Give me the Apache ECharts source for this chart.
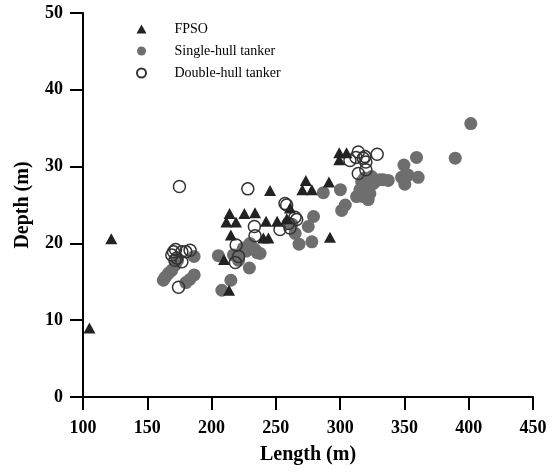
<!DOCTYPE html>
<html>
<head>
<meta charset="utf-8">
<script src="https://cdn.jsdelivr.net/npm/echarts@6/dist/echarts.min.js"></script>
<style>
html,body{margin:0;padding:0;background:#fff;}
#chart{width:555px;height:475px;}
</style>
</head>
<body>
<div id="chart"></div>
<script>
const seriesNames = ['FPSO', 'Single-hull tanker', 'Double-hull tanker'];
const xTicks = [100, 150, 200, 250, 300, 350, 400, 450];
const yTicks = [0, 10, 20, 30, 40, 50];

const fpso = [
  [105,9.0],[122,20.6],[209.7,17.9],[213.6,13.9],[211.5,22.8],[214,23.9],[219,22.8],
  [225.5,23.9],[233.8,24.0],[215,21.1],[240.3,20.7],[244.2,20.7],[242.4,22.9],[251,22.9],
  [245.5,26.9],[258.5,23.2],[261,24.6],[270.6,27.0],[273.3,28.2],[278,27.0],[291.3,28.0],
  [292.1,20.8],[299.3,31.8],[305,31.8],[299.3,30.9]
];

const singleHull = [
  [162.5,15.2],[164,15.6],[166.5,16.1],[169,16.5],[171.7,17.2],[173.5,17.8],
  [180,14.9],[183,15.3],[186.5,15.9],[186.4,18.3],
  [205.3,18.4],[208,13.9],[215,15.2],[217,18.5],[219.6,18.5],[221,17.8],[224.8,19.4],
  [227,19],[229.9,20.0],[231,19.6],[233.8,19.2],[235.5,18.8],[237.7,18.7],[229.4,16.8],
  [262.5,22.5],[265,21.3],[268,19.9],[275.2,22.2],[278,20.2],[279.3,23.5],
  [286.9,26.6],[300.2,27.0],[301.2,24.3],[304,25.0],
  [312.8,26.1],[315.4,27.0],[316.7,28.0],[318,26.1],[321.8,27.0],[321.8,25.7],[323.1,26.5],
  [324.5,28.7],[319,28.5],[330.9,28.3],[333.5,28.3],[337.4,28.2],[318,27.3],[326,27.8],
  [349.6,30.2],[359.4,31.2],[347.8,28.6],[352.9,28.9],[360.7,28.6],[350.3,27.7],
  [389.5,31.1],[401.6,35.6]
];

const doubleHull = [
  [175,27.4],[228.2,27.1],[174.3,14.3],
  [170.4,18.9],[176.9,18.9],[183.3,19.1],[169.1,18.5],[173,18.1],[176.9,17.6],[172,19.2],
  [180,18.9],[171.5,17.8],
  [219.1,19.8],[218.5,17.5],[221,18.3],
  [233.3,22.2],[233.8,21.0],
  [253.2,21.8],[257.1,25.2],[259.7,22.6],[261,22.0],[264.9,23.4],[266.2,23.1],[258.4,25.0],
  [307.6,30.8],[312.3,31.2],[314.1,31.9],[318,31.1],[319.3,31.3],[328.8,31.6],
  [314.1,29.1],[320,29.6],[320,30.6]
];

const FONT = "'Liberation Serif', 'Times New Roman', serif";
const chart = echarts.init(document.getElementById('chart'), null, {renderer: 'canvas'});

function axisOpts(extra) {
  return Object.assign({
    axisLine: {show: true, lineStyle: {color: '#000', width: 2}},
    axisTick: {show: true, length: 13, lineStyle: {color: '#000', width: 2}},
    splitLine: {show: false},
    nameTextStyle: {color: '#000', fontFamily: FONT, fontWeight: 'bold', fontSize: 20}
  }, extra);
}

chart.setOption({
  animation: false,
  backgroundColor: '#fff',
  grid: {left: 83, right: 22, top: 13, bottom: 78},
  legend: {
    orient: 'vertical',
    left: 131,
    top: 16,
    itemWidth: 10,
    itemHeight: 9,
    itemGap: 6,
    data: seriesNames,
    textStyle: {color: '#000', fontFamily: FONT, fontSize: 14, lineHeight: 16, padding: [0, 0, 0, 23]}
  },
  xAxis: axisOpts({
    type: 'value', min: xTicks[0], max: xTicks[xTicks.length - 1], interval: 50,
    name: 'Length (m)', nameLocation: 'middle', nameGap: 48,
    axisLabel: {color: '#000', fontFamily: FONT, fontWeight: 'bold', fontSize: 18, margin: 22}
  }),
  yAxis: axisOpts({
    type: 'value', min: yTicks[0], max: yTicks[yTicks.length - 1], interval: 10,
    name: 'Depth (m)', nameLocation: 'middle', nameGap: 50,
    axisLabel: {color: '#000', fontFamily: FONT, fontWeight: 'bold', fontSize: 18, margin: 20}
  }),
  series: [
    {
      name: seriesNames[0], type: 'scatter', data: fpso, z: 4,
      symbol: 'triangle', symbolSize: [12, 11],
      itemStyle: {color: '#222222', opacity: 1}
    },
    {
      name: seriesNames[1], type: 'scatter', data: singleHull, z: 2,
      symbol: 'circle', symbolSize: 13,
      itemStyle: {color: '#6e6e6e', opacity: 1}
    },
    {
      name: seriesNames[2], type: 'scatter', data: doubleHull, z: 3,
      symbol: 'circle', symbolSize: 12,
      itemStyle: {color: 'rgba(255,255,255,0)', borderColor: '#333333', borderWidth: 1.5, opacity: 1}
    }
  ]
});

// Make sure the tick marks actually render: probe the canvas below the x axis
// and fall back through a few dark colours if the first one does not show.
function tickVisible() {
  const canvas = document.querySelector('#chart canvas');
  if (!canvas) return true;
  const ctx = canvas.getContext('2d');
  const p = chart.convertToPixel({xAxisIndex: 0, yAxisIndex: 0}, [xTicks[1], yTicks[0]]);
  const ratio = canvas.width / 555;
  for (let dx = -2; dx <= 2; dx++) {
    const d = ctx.getImageData(Math.round((p[0] + dx) * ratio), Math.round((p[1] + 7) * ratio), 1, 1).data;
    if (d[3] > 0 && d[0] < 160 && d[1] < 160 && d[2] < 160) return true;
  }
  return false;
}
const tickColors = ['#000000', 'black', 'rgb(10,10,10)', '#1a1a1a', '#262626', '#333333', '#404040', '#4d4d4d', '#0000ff', '#200000', '#400000'];
for (let i = 0; i < tickColors.length; i++) {
  if (tickVisible()) break;
  const c = tickColors[i];
  chart.setOption({
    xAxis: {axisTick: {lineStyle: {color: c}}},
    yAxis: {axisTick: {lineStyle: {color: c}}}
  });
}
</script>
</body>
</html>
